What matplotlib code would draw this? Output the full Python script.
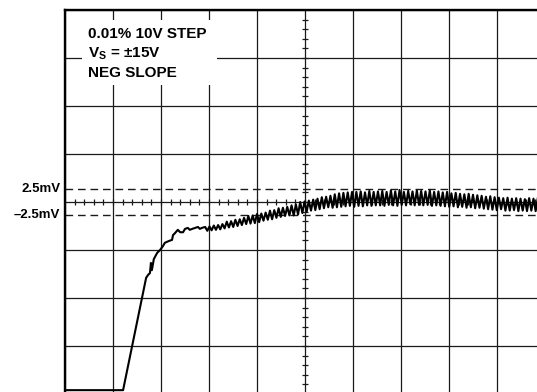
import numpy as np
import matplotlib.pyplot as plt
from matplotlib.patches import Rectangle

plt.rcParams['font.family'] = ['Liberation Sans', 'DejaVu Sans']
plt.rcParams['mathtext.fontset'] = 'custom'
plt.rcParams['mathtext.rm'] = 'Liberation Sans:bold'
plt.rcParams['mathtext.bf'] = 'Liberation Sans:bold'

#-------------------------------------------------------------------------------------
# scope trace, in graticule divisions (x: 0..10, y: -4..4)
step_x = [0.00, 1.21, 1.69, 1.73, 1.77, 1.79, 1.81, 1.85, 1.92, 1.98, 2.04, 2.08,
          2.17, 2.23, 2.25, 2.29, 2.35, 2.40, 2.46, 2.50, 2.56, 2.60, 2.65, 2.71,
          2.77, 2.81, 2.85]
step_y = [-3.92, -3.92, -1.58, -1.52, -1.48, -1.27, -1.42, -1.19, -1.06, -1.00, -0.92, -0.85,
          -0.81, -0.79, -0.69, -0.65, -0.58, -0.63, -0.63, -0.56, -0.54, -0.58, -0.56, -0.54,
          -0.52, -0.56, -0.54]

# settling ripple: peaks and troughs, one sample every 0.045 div from x = 2.92
ripple_x0 = 2.92
ripple_dx = 0.045
ripple_y = [
    -0.52, -0.60, -0.51, -0.59, -0.49, -0.58, -0.48, -0.57, -0.46, -0.55,
    -0.41, -0.53, -0.40, -0.52, -0.37, -0.50, -0.36, -0.48, -0.33, -0.46,
    -0.29, -0.45, -0.28, -0.44, -0.25, -0.42, -0.24, -0.39, -0.22, -0.37,
    -0.18, -0.36, -0.17, -0.33, -0.13, -0.31, -0.12, -0.29, -0.10, -0.28,
    -0.07, -0.28, -0.05, -0.26, 0.00, -0.23, 0.01, -0.20, 0.03, -0.18,
    0.05, -0.17, 0.07, -0.15, 0.10, -0.13, 0.11, -0.11, 0.13, -0.12,
    0.16, -0.11, 0.18, -0.10, 0.19, -0.09, 0.20, -0.08, 0.21, -0.10,
    0.21, -0.08, 0.22, -0.09, 0.20, -0.07, 0.23, -0.08, 0.21, -0.07,
    0.22, -0.07, 0.23, -0.08, 0.21, -0.06, 0.24, -0.07, 0.22, -0.08,
    0.25, -0.06, 0.21, -0.07, 0.23, -0.05, 0.22, -0.07, 0.24, -0.06,
    0.23, -0.07, 0.22, -0.06, 0.24, -0.08, 0.21, -0.07, 0.22, -0.08,
    0.20, -0.09, 0.21, -0.10, 0.18, -0.09, 0.19, -0.11, 0.17, -0.10,
    0.16, -0.12, 0.17, -0.11, 0.15, -0.13, 0.14, -0.12, 0.13, -0.14,
    0.11, -0.15, 0.12, -0.16, 0.10, -0.17, 0.09, -0.15, 0.08, -0.18,
    0.09, -0.18, 0.07, -0.17, 0.08, -0.19, 0.07, -0.18, 0.06, -0.19,
    0.08, -0.18, 0.07, -0.19, 0.08,
]

limit_levels = [0.27, -0.27]
limit_labels = ['2.5mV', '\u20132.5mV']
note_lines = ['0.01% 10V STEP', 'V$_{\\mathbf{S}}$ = \u00b115V', 'NEG SLOPE']

#-------------------------------------------------------------------------------------
ripple_xs = ripple_x0 + ripple_dx * np.arange(len(ripple_y))
trace_x = np.concatenate([step_x, ripple_xs])
trace_y = np.concatenate([step_y, ripple_y])

fig = plt.figure(figsize=(5.37, 3.92), dpi=100)
W, H = 537.0, 392.0
ax = fig.add_axes([65 / W, 1 - 394 / H, 480 / W, 384 / H])
ax.set_xlim(0, 10)
ax.set_ylim(-4, 4)

# graticule
ax.set_xticks(np.arange(0, 11, 1))
ax.set_yticks(np.arange(-4, 5, 1))
ax.set_axisbelow(True)
ax.grid(True, color='#1a1a1a', lw=0.9)
ax.tick_params(length=0, labelbottom=False, labelleft=False)
for s in ['left', 'top']:
    ax.spines[s].set_linewidth(1.7)
for s in ['right', 'bottom']:
    ax.spines[s].set_visible(False)

minor = np.arange(0.2, 10, 0.2)
ax.vlines(minor, -0.07, 0.07, color='#1a1a1a', lw=0.9, zorder=1)
minor_y = np.arange(-3.8, 4, 0.2)
ax.hlines(minor_y, 4.93, 5.07, color='#1a1a1a', lw=0.9, zorder=1)

for lev, lab in zip(limit_levels, limit_labels):
    ax.axhline(lev, color='#1a1a1a', lw=1.0, ls=(0, (5.5, 3.5)), zorder=1)
    ax.text(-0.1, lev, lab, ha='right', va='center', fontsize=9.5,
            fontweight='bold', clip_on=False)

# white label box
ax.add_patch(Rectangle((0.35, 2.44), 2.82, 1.36, facecolor='white',
                       edgecolor='none', zorder=2))
for yy, line in zip([3.417, 3.01, 2.604], note_lines):
    ax.text(0.48, yy, line, ha='left', va='baseline', fontsize=11,
            fontweight='bold', zorder=3)

ax.plot(trace_x, trace_y, color='black', lw=1.5, zorder=4, clip_on=True)

fig.savefig('out.png', dpi=100)
